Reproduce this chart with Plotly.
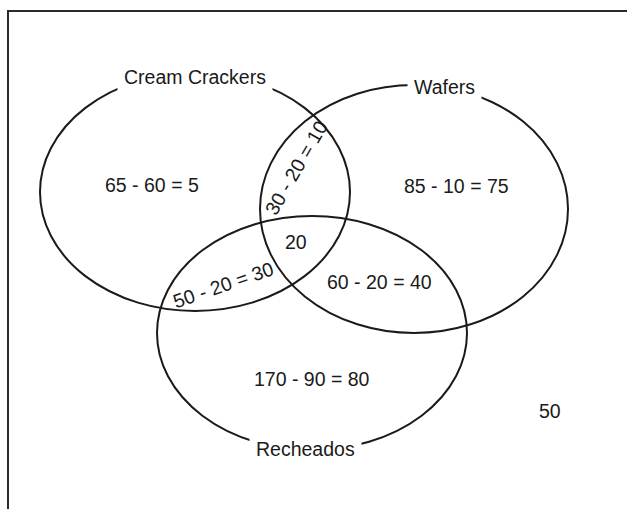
import plotly.graph_objects as go

# ---- data ----
set_names = ["Cream Crackers", "Wafers", "Recheados"]
set_cx = [195, 414, 312]
set_cy = [192, 209, 333]
set_rx = [155, 154, 155]
set_ry = [119, 124, 117]
name_x = [195, 444, 305]
name_y = [77, 87, 449]

region_texts = ["65 - 60 = 5", "85 - 10 = 75", "30 - 20 = 10", "20",
                "50 - 20 = 30", "60 - 20 = 40", "170 - 90 = 80", "50"]
region_x = [152, 456, 296, 296, 223, 379, 312, 550]
region_y = [185, 186, 168, 242, 285, 282, 379, 411]
region_angle = [0, 0, -60, 0, -19, 0, 0, 0]

W, H = 627, 509
FONT = dict(family="Liberation Sans, Arial, sans-serif", size=19.5, color="#1a1a1a")

fig = go.Figure()
fig.add_trace(go.Scatter(x=[0, W], y=[0, H], mode="markers",
                         marker=dict(opacity=0), hoverinfo="skip", showlegend=False))

shapes = []
# frame (only top and left edges visible)
shapes.append(dict(type="rect", xref="x", yref="y", x0=8, y0=11, x1=W + 50, y1=H + 50,
                   line=dict(color="#2b2b2b", width=2), fillcolor="rgba(0,0,0,0)"))
for cx, cy, rx, ry in zip(set_cx, set_cy, set_rx, set_ry):
    shapes.append(dict(type="circle", xref="x", yref="y",
                       x0=cx - rx, x1=cx + rx, y0=cy - ry, y1=cy + ry,
                       line=dict(color="#1a1a1a", width=2)))

annotations = []
for t, x, y in zip(set_names, name_x, name_y):
    annotations.append(dict(x=x, y=y, xref="x", yref="y", text=t, showarrow=False,
                            font=FONT, bgcolor="white", borderpad=6,
                            xanchor="center", yanchor="middle"))
for t, x, y, a in zip(region_texts, region_x, region_y, region_angle):
    annotations.append(dict(x=x, y=y, xref="x", yref="y", text=t, showarrow=False,
                            font=FONT, textangle=a, xanchor="center", yanchor="middle"))

fig.update_layout(
    width=W, height=H, autosize=False,
    margin=dict(l=0, r=0, t=0, b=0),
    paper_bgcolor="white", plot_bgcolor="white",
    xaxis=dict(range=[0, W], visible=False, fixedrange=True),
    yaxis=dict(range=[H, 0], visible=False, fixedrange=True),
    shapes=shapes, annotations=annotations, showlegend=False,
)
fig.write_html("out.html", config={"displayModeBar": False},
               post_script="document.body.style.margin='0';document.body.style.overflow='hidden';")
